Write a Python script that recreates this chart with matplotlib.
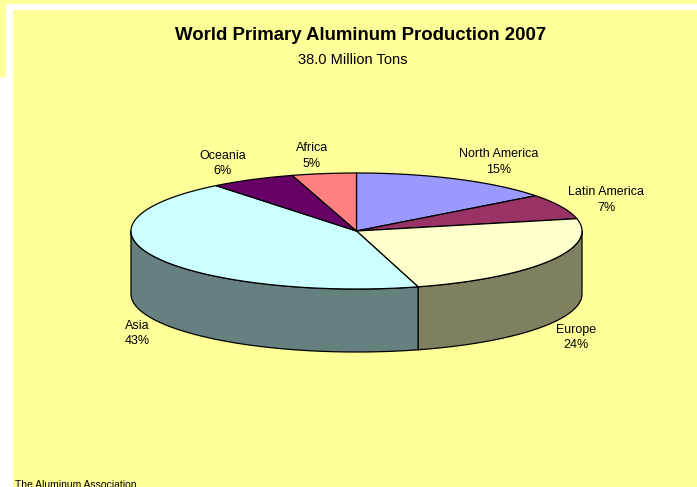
import numpy as np
import matplotlib
matplotlib.use('Agg')
import matplotlib.pyplot as plt
from matplotlib.patches import Rectangle

plt.rcParams['font.family'] = ['Liberation Sans', 'DejaVu Sans']

#data, clockwise from the top of the pie
regions = ['North America', 'Latin America', 'Europe', 'Asia', 'Oceania', 'Africa']
shown_pct = [15, 7, 24, 43, 6, 5]
shares = [14.6, 7.0, 24.0, 43.7, 6.1, 4.6]

top_colors = ['#9999FF', '#993366', '#FFFFCC', '#CCFFFF', '#660066', '#FF8080']
side_colors = ['#4C4C80', '#4C1933', '#808060', '#668080', '#330033', '#804040']
label_pos = [(499, 162), (606, 200), (576, 337.5), (137, 333.5), (223, 163.5), (312, 156)]

title = 'World Primary Aluminum Production 2007'
subtitle = '38.0 Million Tons'
source = 'The Aluminum Association'

#pie geometry in pixels
cx, cy = 356.5, 231
rx, ry = 225.5, 58
depth = 63


def arc(a0, a1):
    t = np.radians(np.linspace(a0, a1, 120))
    return cx + rx*np.sin(t), cy - ry*np.cos(t)


fig = plt.figure(figsize=(6.97, 4.87), dpi=100, facecolor='white')
ax = fig.add_axes([0, 0, 1, 1])
ax.set_xlim(0, 697)
ax.set_ylim(487, 0)
ax.axis('off')

#background panels
yellow = '#FFFF99'
ax.add_patch(Rectangle((0, 0), 697, 3.5, fc=yellow, ec='none'))
ax.add_patch(Rectangle((0, 0), 6, 77, fc=yellow, ec='none'))
ax.add_patch(Rectangle((13, 10), 684, 477, fc=yellow, ec='none'))

edges = np.concatenate([[0], np.cumsum(shares)])*3.6

#side wall, only the front half of the pie (90 to 270 deg)
for i in range(len(shares)):
    a0 = max(edges[i], 90)
    a1 = min(edges[i+1], 270)
    if a1 <= a0:
        continue
    x, y = arc(a0, a1)
    ax.fill(np.r_[x, x[::-1]], np.r_[y, y[::-1] + depth],
            fc=side_colors[i], ec='black', lw=0.9, joinstyle='round')

#top face
for i in range(len(shares)):
    x, y = arc(edges[i], edges[i+1])
    ax.fill(np.r_[cx, x], np.r_[cy, y], fc=top_colors[i], ec='black', lw=0.9,
            joinstyle='round')

for name, pct, (lx, ly) in zip(regions, shown_pct, label_pos):
    ax.text(lx, ly, '%s\n%d%%' % (name, pct), ha='center', va='center',
            fontsize=9, linespacing=1.4, color='black')

ax.text(360.5, 36, title, ha='center', va='center', fontsize=13.45,
        fontweight='bold', color='black')
ax.text(352.5, 60, subtitle, ha='center', va='center', fontsize=10.5,
        color='black')
ax.text(15, 484.5, source, ha='left', va='center', fontsize=7.5, color='black')

fig.savefig('out.png', dpi=100)
